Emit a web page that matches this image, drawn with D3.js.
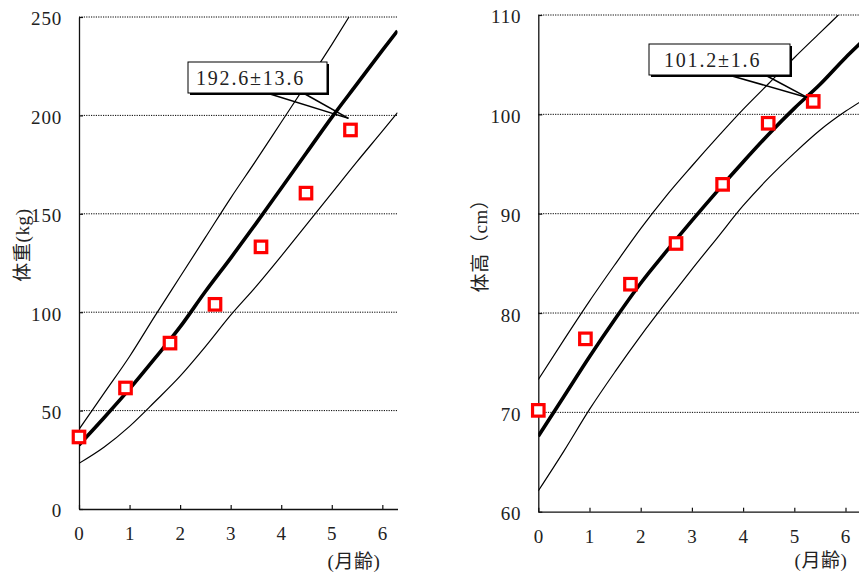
<!DOCTYPE html>
<html>
<head>
<meta charset="utf-8">
<script src="https://cdn.jsdelivr.net/npm/d3@7"></script>
<style>
  html, body { margin: 0; padding: 0; background: #fff; }
  svg { display: block; }
  text { font-family: "Liberation Serif", "Times New Roman", "Noto Sans CJK JP", serif; fill: #222; }
</style>
</head>
<body>
<svg id="chart" width="859" height="577"></svg>
<script>
// ---- data ----
const xTicks = [0, 1, 2, 3, 4, 5, 6];
const weightTicks = [0, 50, 100, 150, 200, 250];
const heightTicks = [60, 70, 80, 90, 100, 110];

const curveMonths = [0, 0.5, 1, 1.5, 2, 2.5, 3, 3.5, 4, 4.5, 5, 5.5, 6, 6.3];
const weightMean  = [32.5, 46.5, 61, 76.5, 92.5, 110.5, 127.5, 145, 163, 181, 199, 216, 233, 243];
const weightLower = [23.2, 31.5, 42, 54.5, 67.5, 82.5, 98.5, 113, 128.5, 144.5, 160.5, 176.5, 192, 201.4];
const weightUpperMonths = [0, 0.5, 1, 1.5, 2, 2.5, 3, 3.5, 4, 4.5, 5, 5.34];
const weightUpper = [40.5, 59, 77.5, 98, 118, 138, 158, 177, 196.5, 216, 236, 250];

const heightMean  = [67.6, 71.6, 75.6, 79.4, 83, 86.2, 89.3, 92.3, 95.2, 98, 100.6, 103, 105.7, 107.2];
const heightLower = [62.1, 66.1, 70.3, 74.1, 77.7, 81.1, 84.4, 87.6, 90.8, 93.6, 96.1, 98.4, 100.3, 101.3];
const heightUpperMonths = [0, 0.5, 1, 1.5, 2, 2.5, 3, 3.5, 4, 4.5, 5, 5.5, 5.86];
const heightUpper = [73.3, 77.3, 81.2, 84.9, 88.5, 91.8, 94.8, 97.7, 100.5, 103.1, 105.7, 108.2, 110];

const obsMonths = [0, 0.92, 1.8, 2.69, 3.6, 4.49, 5.37];
const weightObs = [36.6, 61.5, 84.3, 104, 133.2, 160.5, 192.6];
const heightObs = [70.2, 77.4, 82.9, 87.0, 92.95, 99.1, 101.3];

const weightLabel = "192.6±13.6";
const heightLabel = "101.2±1.6";

// ---- drawing ----
const svg = d3.select("#chart");
const SERIF = '"Liberation Serif", "Times New Roman", "Noto Sans CJK JP", serif';

function panel(cfg) {
  const x = d3.scaleLinear().domain([0, 6.3]).range([cfg.x0, cfg.x1]);
  const y = d3.scaleLinear().domain(cfg.yDomain).range([cfg.y0, cfg.y1]);
  const g = svg.append("g");

  const clipId = "clip" + cfg.id;
  svg.append("clipPath").attr("id", clipId).append("rect")
    .attr("x", cfg.x0).attr("y", cfg.y1)
    .attr("width", cfg.x1 - cfg.x0).attr("height", cfg.y0 - cfg.y1);

  // gridlines
  g.append("g").selectAll("line").data(cfg.yTicks.slice(1)).join("line")
    .attr("x1", cfg.x0).attr("x2", cfg.x1)
    .attr("y1", d => y(d)).attr("y2", d => y(d))
    .attr("stroke", "#000").attr("stroke-width", 1)
    .attr("stroke-dasharray", "1.2,1.2");

  // axes
  const xAxis = d3.axisBottom(x).tickValues(xTicks).tickFormat(d3.format("d"))
    .tickSize(-4).tickSizeOuter(0).tickPadding(18);
  const yAxis = d3.axisLeft(y).tickValues(cfg.yTicks).tickFormat(d3.format("d"))
    .tickSize(-4).tickSizeOuter(0).tickPadding(17);
  const gx = g.append("g").attr("transform", `translate(0,${cfg.y0})`).call(xAxis);
  const gy = g.append("g").attr("transform", `translate(${cfg.x0},0)`).call(yAxis);
  [gx, gy].forEach(a => {
    a.attr("font-family", null).attr("font-size", null);
    a.select(".domain").attr("stroke", "#111").attr("stroke-width", 1.3);
    a.selectAll(".tick line").attr("stroke", "#111").attr("stroke-width", 1.2);
    a.selectAll("text").attr("font-size", 19).attr("fill", "#222")
      .style("font-family", SERIF).attr("letter-spacing", 0.8);
  });
  gy.selectAll("text").attr("dy", "0.42em");

  // curves
  const line = d3.line().curve(d3.curveMonotoneX).x(d => x(d[0])).y(d => y(d[1]));
  const cg = g.append("g").attr("clip-path", `url(#${clipId})`);
  cg.append("path").datum(d3.zip(cfg.upperMonths, cfg.upper)).attr("d", line)
    .attr("fill", "none").attr("stroke", "#000").attr("stroke-width", 1.2);
  cg.append("path").datum(d3.zip(curveMonths, cfg.lower)).attr("d", line)
    .attr("fill", "none").attr("stroke", "#000").attr("stroke-width", 1.2);
  cg.append("path").datum(d3.zip(curveMonths, cfg.mean)).attr("d", line)
    .attr("fill", "none").attr("stroke", "#000").attr("stroke-width", 3.6);

  // markers
  const s = 11.5;
  g.append("g").selectAll("rect").data(d3.zip(obsMonths, cfg.obs)).join("rect")
    .attr("x", d => x(d[0]) - s / 2).attr("y", d => y(d[1]) - s / 2)
    .attr("width", s).attr("height", s)
    .attr("fill", "#fff").attr("stroke", "#ff0000").attr("stroke-width", 3.2);

  // callout
  const c = cfg.callout;
  const tipX = x(c.tip[0]), tipY = y(c.tip[1]);
  const cgp = g.append("g");
  cgp.append("rect").attr("x", c.bx + 2).attr("y", c.by + 2)
    .attr("width", c.bw).attr("height", c.bh).attr("fill", "#000");
  cgp.append("rect").attr("x", c.bx).attr("y", c.by)
    .attr("width", c.bw).attr("height", c.bh)
    .attr("fill", "#fff").attr("stroke", "#000").attr("stroke-width", 1);
  [c.p1, c.p2].forEach(px => {
    cgp.append("line").attr("x1", px).attr("y1", c.by + c.bh + 1)
      .attr("x2", tipX).attr("y2", tipY)
      .attr("stroke", "#000").attr("stroke-width", 1.5);
  });
  cgp.append("text").attr("x", c.tx).attr("y", c.by + c.bh / 2)
    .attr("dy", "0.36em").attr("font-size", 20).attr("letter-spacing", 1.8)
    .style("font-family", SERIF)
    .attr("fill", "#222").text(c.text);

  // axis titles
  g.append("text")
    .attr("transform", `translate(${cfg.yTitle[0]},${cfg.yTitle[1]}) rotate(-90)`)
    .attr("text-anchor", "middle").attr("dy", "0.35em")
    .attr("font-size", 19).attr("letter-spacing", 0.6).text(cfg.yTitleText);
  g.append("text").attr("x", cfg.xTitle[0]).attr("y", cfg.xTitle[1])
    .attr("text-anchor", "middle").attr("dy", "0.35em")
    .attr("font-size", 19).attr("letter-spacing", 0.6).text("(月齢)");
}

panel({
  id: "w", x0: 79, x1: 397.5, y0: 509, y1: 17, yDomain: [0, 250], yTicks: weightTicks,
  mean: weightMean, lower: weightLower, upper: weightUpper, upperMonths: weightUpperMonths,
  obs: weightObs,
  callout: { bx: 188, by: 62, bw: 139, bh: 31, p1: 270, p2: 305, tip: [5.33, 198.5], tx: 196, text: weightLabel },
  yTitle: [22, 245], yTitleText: "体重(kg)", xTitle: [354, 561]
});

panel({
  id: "h", x0: 538.3, x1: 538.3 + 6.3 * 51.2, y0: 511.7, y1: 15, yDomain: [60, 110], yTicks: heightTicks,
  mean: heightMean, lower: heightLower, upper: heightUpper, upperMonths: heightUpperMonths,
  obs: heightObs,
  callout: { bx: 649, by: 44, bw: 141, bh: 31, p1: 732, p2: 767, tip: [5.25, 101.7], tx: 664, text: heightLabel },
  yTitle: [480, 241], yTitleText: "体高（cm）", xTitle: [821, 560]
});
</script>
</body>
</html>
